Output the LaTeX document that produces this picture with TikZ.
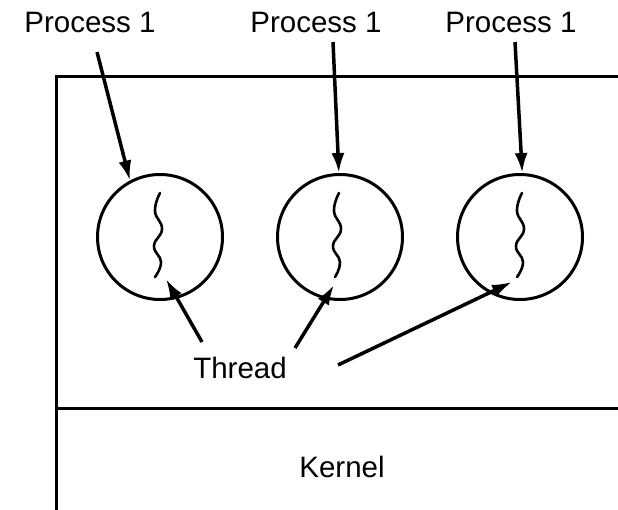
\documentclass[tikz,border=0pt]{standalone}
\usepackage{fontspec}
\setmainfont{Liberation Sans}
\usetikzlibrary{arrows.meta}
\begin{document}
\begin{tikzpicture}[x=1pt,y=-1pt,
  label/.style={anchor=base,inner sep=0pt,font=\fontsize{29.5}{35}\selectfont},
  proc/.style={draw,circle,line width=3pt,minimum size=125pt,inner sep=0pt},
  wall/.style={line width=3pt},
  pointer/.style={line width=3.5pt,-{Latex[length=20pt,width=13pt]}},
  squiggle/.style={line width=2.6pt,line cap=round}]
  \useasboundingbox (0,0) rectangle (618,509);

  % user-space / kernel outline
  \draw[wall] (620,76) -- (56,76) -- (56,512);
  \draw[wall] (56,408) -- (620,408);

  % processes
  \node[proc] (c1) at (160,237) {};
  \node[proc] (c2) at (340,237) {};
  \node[proc] (c3) at (520,237) {};

  % one thread per process
  \draw[squiggle] plot[smooth,tension=0.8] coordinates
    {(160,193) (155,211) (162,229) (154,246) (161,262) (155,277)};
  \draw[squiggle] plot[smooth,tension=0.8] coordinates
    {(339,193) (334,211) (341,229) (333,246) (340,262) (335,277)};
  \draw[squiggle] plot[smooth,tension=0.8] coordinates
    {(522,193) (517,211) (524,229) (516,246) (523,262) (517,277)};
  \coordinate (t1) at (166,279);
  \coordinate (t2) at (334,285);
  \coordinate (t3) at (512,282);

  % labels
  \node[label] (p1) at (90,32) {Process 1};
  \node[label] (p2) at (316,32) {Process 1};
  \node[label] (p3) at (511,32) {Process 1};
  \node[label] (th) at (240,378) {Thread};
  \node[label] (kn) at (342,477) {Kernel};

  % pointer tails
  \coordinate (s1) at (97,52);
  \coordinate (s2) at (333,42);
  \coordinate (s3) at (515,42);
  \coordinate (u1) at (202,342);
  \coordinate (u2) at (295,348);
  \coordinate (u3) at (338,365);

  \draw[pointer] (s1) -- (c1.118);
  \draw[pointer] (s2) -- (c2.91);
  \draw[pointer] (s3) -- (c3.88);
  \draw[pointer] (u1) -- (t1);
  \draw[pointer] (u2) -- (t2);
  \draw[pointer] (u3) -- (t3);
\end{tikzpicture}
\end{document}
